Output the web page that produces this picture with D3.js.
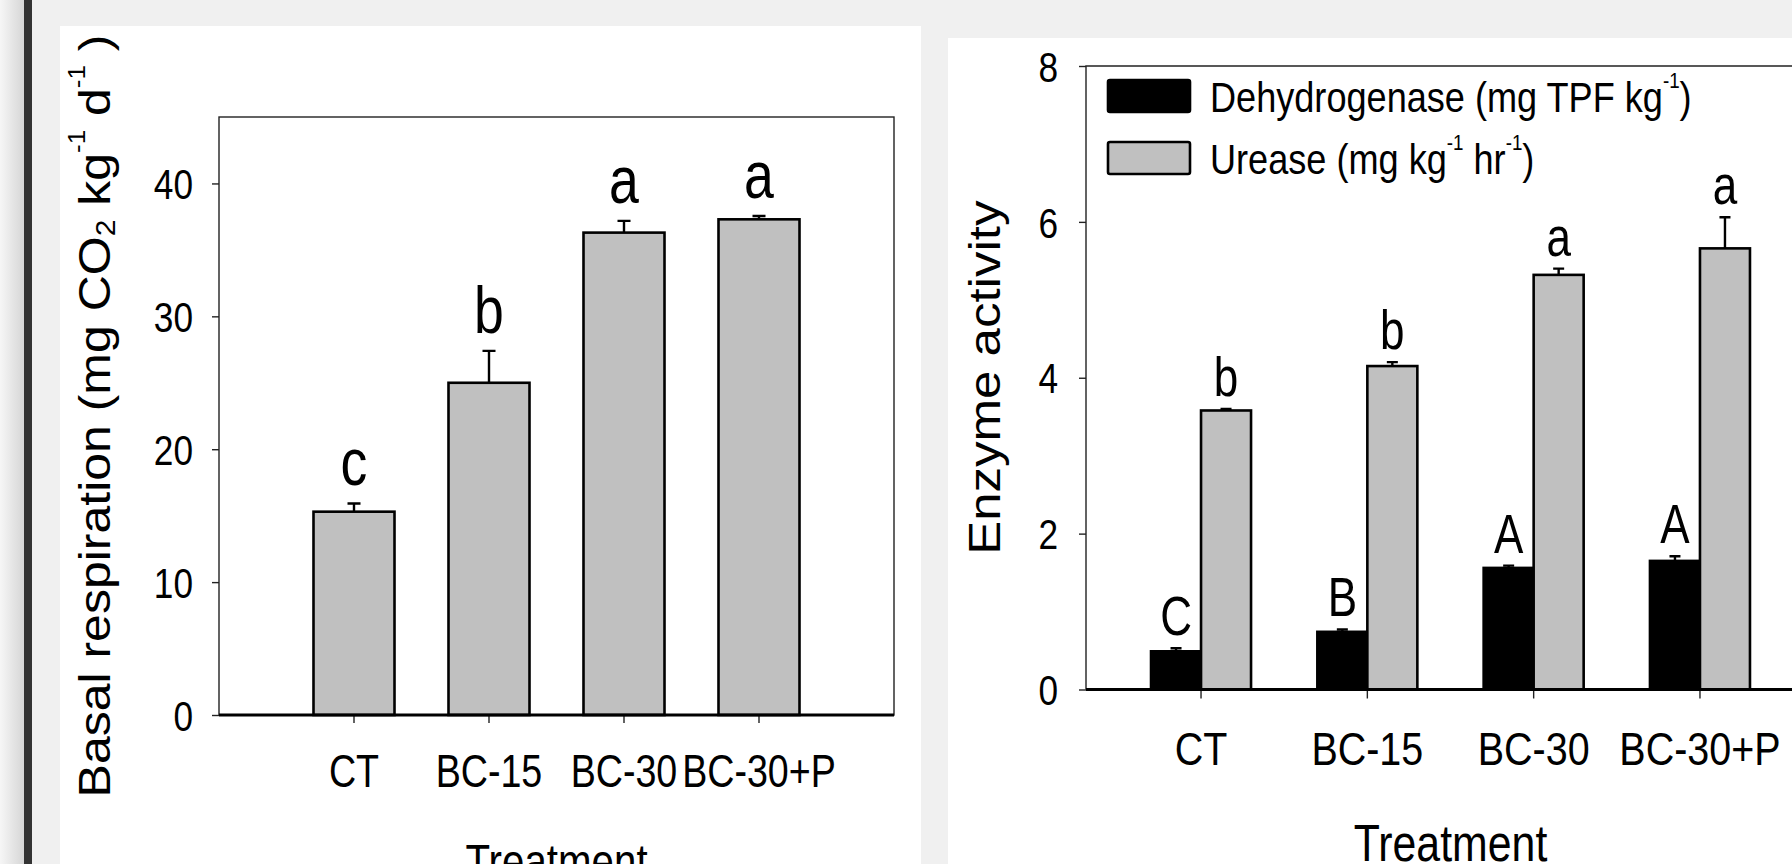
<!DOCTYPE html>
<html>
<head>
<meta charset="utf-8">
<script src="https://cdn.jsdelivr.net/npm/d3@7"></script>
<style>
  body { margin: 0; background: #f0f0f0; }
  svg { display: block; }
  text { font-family: "Liberation Sans", Arial, sans-serif; fill: #000; }
</style>
</head>
<body>
<div id="chart"></div>
<script>
// data
const treatments = ['CT', 'BC-15', 'BC-30', 'BC-30+P'];

const respMean = [15.3, 25.0, 36.3, 37.3];
const respSd = [0.62, 2.4, 0.88, 0.25];
const respLetters = ['c', 'b', 'a', 'a'];
const respTicks = [0, 10, 20, 30, 40];

const dehydMean = [0.49, 0.74, 1.56, 1.65];
const dehydSd = [0.04, 0.03, 0.03, 0.06];
const dehydLetters = ['C', 'B', 'A', 'A'];

const ureaseMean = [3.58, 4.15, 5.32, 5.66];
const ureaseSd = [0.02, 0.05, 0.08, 0.40];
const ureaseLetters = ['b', 'b', 'a', 'a'];
const enzTicks = [0, 2, 4, 6, 8];

const W = 1792, H = 864;
const SX = 0.84; // the figure's lettering is squeezed sideways

const svg = d3.select('#chart').append('svg')
  .attr('width', W).attr('height', H);

// page chrome
const grad = svg.append('defs').append('linearGradient').attr('id', 'edge');
grad.append('stop').attr('offset', '0%').attr('stop-color', '#f6f6f6');
grad.append('stop').attr('offset', '100%').attr('stop-color', '#d6d6d6');
svg.append('rect').attr('width', W).attr('height', H).attr('fill', '#f0f0f0');
svg.append('rect').attr('x', 0).attr('width', 24).attr('height', H).attr('fill', 'url(#edge)');
svg.append('rect').attr('x', 24).attr('width', 8).attr('height', H).attr('fill', '#333');
svg.append('rect').attr('x', 60).attr('y', 26).attr('width', 861).attr('height', H).attr('fill', '#fff');
svg.append('rect').attr('x', 948).attr('y', 38).attr('width', W - 948).attr('height', H).attr('fill', '#fff');

// text with optional super/subscript parts, squeezed horizontally
const label = (g, x, y, parts, opts) => {
  const o = Object.assign({ size: 42, sx: SX, anchor: 'middle', rotate: false }, opts);
  const t = g.append('text')
    .attr('transform', `translate(${x},${y}) scale(${o.sx},1)` + (o.rotate ? ' rotate(-90)' : ''))
    .attr('text-anchor', o.anchor)
    .style('font-size', o.size + 'px');
  let shift = 0;
  (typeof parts === 'string' ? [{ t: parts }] : parts).forEach(p => {
    const s = p.sup ? -o.size * 0.56 : p.sub ? o.size * 0.12 : 0;
    const fs = p.sup ? o.size * 0.52 : p.sub ? o.size * 0.6 : o.size;
    t.append('tspan')
      .attr('dy', s - shift)
      .style('font-size', fs + 'px')
      .text(p.t);
    shift = s;
  });
  return t;
};

const squeezeTicks = (sel, sx) => {
  sel.selectAll('.tick text').each(function () {
    const t = d3.select(this);
    const x = +t.attr('x') || 0;
    t.attr('x', 0).attr('transform', `translate(${x},0) scale(${sx},1)`);
  });
};

// ---------- left: basal respiration ----------
const L = { left: 219, right: 894, top: 117, bottom: 715 };

const xL = d3.scaleBand().domain(treatments)
  .range([L.left, L.right]).paddingInner(0.4).paddingOuter(0.7);
const yL = d3.scaleLinear().domain([0, 45]).range([L.bottom, L.top]);

const gL = svg.append('g');

gL.append('rect')
  .attr('x', L.left).attr('y', L.top)
  .attr('width', L.right - L.left).attr('height', L.bottom - L.top)
  .attr('fill', 'none').attr('stroke', '#222').attr('stroke-width', 1.4);

gL.append('g')
  .attr('transform', `translate(${L.left},0)`)
  .call(d3.axisLeft(yL).tickValues(respTicks).tickSize(7).tickPadding(19))
  .call(g => g.select('.domain').remove())
  .call(g => g.selectAll('.tick line').attr('stroke', '#222').attr('stroke-width', 1.4))
  .call(g => g.selectAll('.tick text').attr('dy', '0.36em')
    .style('font-size', '42px').attr('font-family', null))
  .call(g => squeezeTicks(g, SX));

gL.append('g')
  .attr('transform', `translate(0,${L.bottom})`)
  .call(d3.axisBottom(xL).tickSize(8).tickPadding(31))
  .call(g => g.select('.domain').remove())
  .call(g => g.selectAll('.tick line').attr('stroke', '#222').attr('stroke-width', 1.4))
  .call(g => g.selectAll('.tick text').style('font-size', '47px').attr('font-family', null))
  .call(g => squeezeTicks(g, 0.8));

gL.selectAll('.bar')
  .data(treatments)
  .join('rect')
  .attr('class', 'bar')
  .attr('x', d => xL(d))
  .attr('y', (d, i) => yL(respMean[i]))
  .attr('width', xL.bandwidth())
  .attr('height', (d, i) => yL(0) - yL(respMean[i]))
  .attr('fill', '#c0c0c0').attr('stroke', '#000').attr('stroke-width', 2.6);

gL.append('line')
  .attr('x1', L.left).attr('x2', L.right)
  .attr('y1', L.bottom).attr('y2', L.bottom)
  .attr('stroke', '#000').attr('stroke-width', 2.8);

treatments.forEach((d, i) => {
  const cx = xL(d) + xL.bandwidth() / 2;
  const top = yL(respMean[i] + respSd[i]);
  gL.append('path')
    .attr('d', `M${cx},${yL(respMean[i])}V${top}M${cx - 6.5},${top}H${cx + 6.5}`)
    .attr('stroke', '#000').attr('stroke-width', 2.4).attr('fill', 'none');
  label(gL, cx, top - 18, respLetters[i], { size: 67, sx: 0.8 });
});

label(gL, (L.left + L.right) / 2, 878, 'Treatment', { size: 48 });
label(gL, 110, (L.top + L.bottom) / 2, [
  { t: 'Basal respiration (mg CO' }, { t: '2', sub: true },
  { t: ' kg' }, { t: '-1', sup: true }, { t: '  d' }, { t: '-1', sup: true }, { t: ' )' }
], { size: 50, sx: 0.9, rotate: true });

// ---------- right: enzyme activity ----------
const R = { left: 1086, right: 1815, top: 66, bottom: 689.5 };

const xR = d3.scaleBand().domain(treatments)
  .range([R.left, R.right]).paddingInner(0.3987).paddingOuter(0.391);
const xSub = d3.scaleBand().domain(['dehyd', 'urease']).range([0, xR.bandwidth()]);
const yR = d3.scaleLinear().domain([0, 8]).range([R.bottom, R.top]);

const gR = svg.append('g');

gR.append('path')
  .attr('d', `M${R.right},${R.top}H${R.left}V${R.bottom}`)
  .attr('fill', 'none').attr('stroke', '#222').attr('stroke-width', 1.4);

gR.append('g')
  .attr('transform', `translate(${R.left},0)`)
  .call(d3.axisLeft(yR).tickValues(enzTicks).tickSize(7).tickPadding(21))
  .call(g => g.select('.domain').remove())
  .call(g => g.selectAll('.tick line').attr('stroke', '#222').attr('stroke-width', 1.4))
  .call(g => g.selectAll('.tick text').attr('dy', '0.36em')
    .style('font-size', '42px').attr('font-family', null))
  .call(g => squeezeTicks(g, SX));

gR.append('g')
  .attr('transform', `translate(0,${R.bottom})`)
  .call(d3.axisBottom(xR).tickSize(9).tickPadding(33))
  .call(g => g.select('.domain').remove())
  .call(g => g.selectAll('.tick line').attr('stroke', '#222').attr('stroke-width', 1.4))
  .call(g => g.selectAll('.tick text').style('font-size', '47px').attr('font-family', null))
  .call(g => squeezeTicks(g, SX));

const series = [
  { key: 'dehyd', mean: dehydMean, sd: dehydSd, letters: dehydLetters, fill: '#000' },
  { key: 'urease', mean: ureaseMean, sd: ureaseSd, letters: ureaseLetters, fill: '#c0c0c0' }
];

series.forEach(s => {
  gR.selectAll('.bar-' + s.key)
    .data(treatments)
    .join('rect')
    .attr('class', 'bar-' + s.key)
    .attr('x', d => xR(d) + xSub(s.key))
    .attr('y', (d, i) => yR(s.mean[i]))
    .attr('width', xSub.bandwidth())
    .attr('height', (d, i) => yR(0) - yR(s.mean[i]))
    .attr('fill', s.fill).attr('stroke', '#000').attr('stroke-width', 2.6);
});

gR.append('line')
  .attr('x1', R.left).attr('x2', R.right)
  .attr('y1', R.bottom).attr('y2', R.bottom)
  .attr('stroke', '#000').attr('stroke-width', 2.8);

series.forEach(s => {
  treatments.forEach((d, i) => {
    const cx = xR(d) + xSub(s.key) + xSub.bandwidth() / 2;
    const top = yR(s.mean[i] + s.sd[i]);
    gR.append('path')
      .attr('d', `M${cx},${yR(s.mean[i])}V${top}M${cx - 5.5},${top}H${cx + 5.5}`)
      .attr('stroke', '#000').attr('stroke-width', 2.4).attr('fill', 'none');
    label(gR, cx, top - 13, s.letters[i], { size: 55, sx: 0.8 });
  });
});

// legend
const legend = [
  { fill: '#000', parts: [{ t: 'Dehydrogenase (mg TPF kg' }, { t: '-1', sup: true }, { t: ')' }] },
  { fill: '#c0c0c0', parts: [{ t: 'Urease (mg kg' }, { t: '-1', sup: true }, { t: ' hr' }, { t: '-1', sup: true }, { t: ')' }] }
];
legend.forEach((l, i) => {
  const cy = 96 + i * 62;
  gR.append('rect')
    .attr('x', 1108).attr('y', cy - 16).attr('width', 82).attr('height', 32).attr('rx', 2)
    .attr('fill', l.fill).attr('stroke', '#000').attr('stroke-width', 2.6);
  label(gR, 1210, cy + 16, l.parts, { size: 42, sx: 0.86, anchor: 'start' });
});

label(gR, (xR(treatments[0]) + xR(treatments[3]) + xR.bandwidth()) / 2, 861, 'Treatment', { size: 51 });
label(gR, 1000, (R.top + R.bottom) / 2, 'Enzyme activity', { size: 51, sx: 0.87, rotate: true });
</script>
</body>
</html>
